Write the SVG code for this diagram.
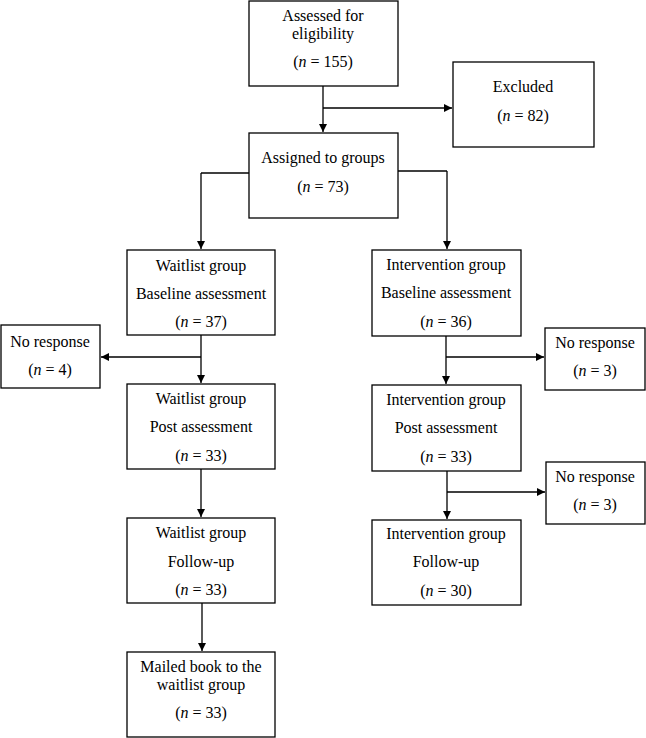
<svg xmlns="http://www.w3.org/2000/svg" width="646" height="738" viewBox="0 0 646 738">
<style>
.b{fill:#fff;stroke:#000;stroke-width:1.3}
text{font-family:"Liberation Serif",serif;font-size:16px;text-anchor:middle;fill:#000}
.c line{stroke:#000;stroke-width:1.3}
</style>
<defs><marker id="a" viewBox="0 0 10 10" refX="10" refY="5" markerWidth="8" markerHeight="8" orient="auto" markerUnits="userSpaceOnUse"><path d="M0,0L10,5L0,10z"/></marker></defs>
<rect width="646" height="738" fill="#fff"/>
<g class="c">
<line x1="323" y1="86" x2="323" y2="132" marker-end="url(#a)"/>
<line x1="323" y1="108" x2="452" y2="108" marker-end="url(#a)"/>
<line x1="249" y1="173" x2="201" y2="173"/>
<line x1="201" y1="173" x2="201" y2="249" marker-end="url(#a)"/>
<line x1="398" y1="171" x2="447" y2="171"/>
<line x1="447" y1="171" x2="447" y2="249" marker-end="url(#a)"/>
<line x1="201" y1="335" x2="201" y2="383" marker-end="url(#a)"/>
<line x1="201" y1="357" x2="101" y2="357" marker-end="url(#a)"/>
<line x1="446" y1="336" x2="446" y2="384" marker-end="url(#a)"/>
<line x1="446" y1="357" x2="544" y2="357" marker-end="url(#a)"/>
<line x1="201" y1="469" x2="201" y2="517" marker-end="url(#a)"/>
<line x1="447" y1="471" x2="447" y2="519" marker-end="url(#a)"/>
<line x1="447" y1="492" x2="545" y2="492" marker-end="url(#a)"/>
<line x1="202" y1="603" x2="202" y2="651" marker-end="url(#a)"/>
</g>
<g id="assessed"><rect class="b" x="249" y="1" width="149" height="85"/><text x="323" y="21">Assessed for</text><text x="323" y="39">eligibility</text><text x="323" y="67">(<tspan font-style="italic">n</tspan> = 155)</text></g>
<g id="excluded"><rect class="b" x="453" y="62" width="141" height="85"/><text x="523" y="92">Excluded</text><text x="523" y="121">(<tspan font-style="italic">n</tspan> = 82)</text></g>
<g id="assigned"><rect class="b" x="249" y="133" width="149" height="85"/><text x="323" y="163">Assigned to groups</text><text x="323" y="192">(<tspan font-style="italic">n</tspan> = 73)</text></g>
<g id="wbase"><rect class="b" x="127" y="250" width="148" height="85"/><text x="201" y="271">Waitlist group</text><text x="201" y="299">Baseline assessment</text><text x="201" y="327">(<tspan font-style="italic">n</tspan> = 37)</text></g>
<g id="ibase"><rect class="b" x="372" y="250" width="149" height="86"/><text x="446" y="270">Intervention group</text><text x="446" y="298">Baseline assessment</text><text x="446" y="327">(<tspan font-style="italic">n</tspan> = 36)</text></g>
<g id="nr1"><rect class="b" x="1" y="325" width="99" height="63"/><text x="50" y="347">No response</text><text x="50" y="375">(<tspan font-style="italic">n</tspan> = 4)</text></g>
<g id="nr2"><rect class="b" x="545" y="328" width="100" height="62"/><text x="595" y="348">No response</text><text x="595" y="376">(<tspan font-style="italic">n</tspan> = 3)</text></g>
<g id="wpost"><rect class="b" x="127" y="384" width="148" height="85"/><text x="201" y="404">Waitlist group</text><text x="201" y="432">Post assessment</text><text x="201" y="461">(<tspan font-style="italic">n</tspan> = 33)</text></g>
<g id="ipost"><rect class="b" x="372" y="385" width="149" height="86"/><text x="446" y="405">Intervention group</text><text x="446" y="433">Post assessment</text><text x="446" y="462">(<tspan font-style="italic">n</tspan> = 33)</text></g>
<g id="nr3"><rect class="b" x="546" y="462" width="99" height="62"/><text x="595" y="482">No response</text><text x="595" y="510">(<tspan font-style="italic">n</tspan> = 3)</text></g>
<g id="wfu"><rect class="b" x="127" y="518" width="148" height="85"/><text x="201" y="538">Waitlist group</text><text x="201" y="567">Follow-up</text><text x="201" y="595">(<tspan font-style="italic">n</tspan> = 33)</text></g>
<g id="ifu"><rect class="b" x="372" y="520" width="149" height="85"/><text x="446" y="539">Intervention group</text><text x="446" y="567">Follow-up</text><text x="446" y="596">(<tspan font-style="italic">n</tspan> = 30)</text></g>
<g id="mailed"><rect class="b" x="127" y="652" width="148" height="85"/><text x="201" y="672">Mailed book to the</text><text x="201" y="690">waitlist group</text><text x="201" y="718">(<tspan font-style="italic">n</tspan> = 33)</text></g>
</svg>
